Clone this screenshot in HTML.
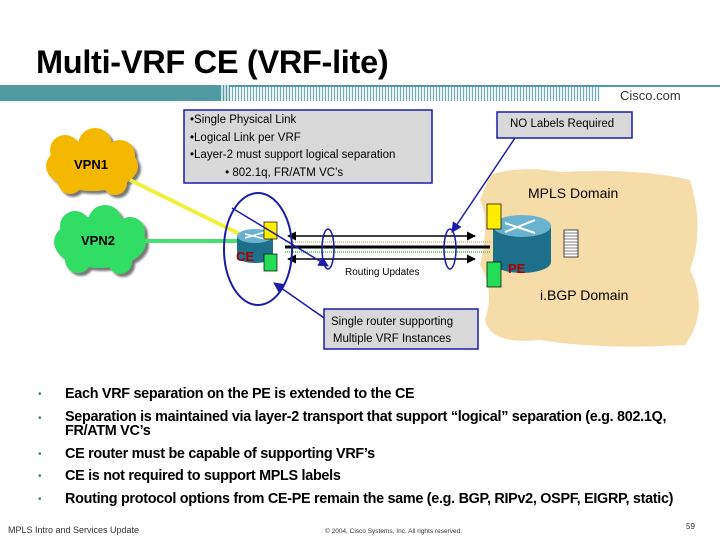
<!DOCTYPE html>
<html><head><meta charset="utf-8"><style>
body{margin:0;width:720px;height:540px;background:#fff;position:relative;overflow:hidden;font-family:"Liberation Sans",sans-serif}
.a{position:absolute;white-space:nowrap}
.b{font-weight:bold;font-size:14.4px;letter-spacing:-0.3px}
.dot{position:absolute;left:38px;font-size:10px;color:#4a7a8c}
</style></head><body>
<div class="a" style="left:36px;top:44px;font-size:32.5px;font-weight:bold;letter-spacing:-0.3px">Multi-VRF CE (VRF-lite)</div>
<div class="a" style="left:0;top:85px;width:230px;height:16px;background:#4f9aa3"></div>
<div class="a" style="left:220px;top:85px;width:380px;height:16px;background:repeating-linear-gradient(90deg,#4f9aa3 0 1px,#e8f0f2 1px 3px);opacity:.8"></div>
<div class="a" style="left:230px;top:85px;width:490px;height:2px;background:#4f9aa3"></div>
<div class="a" style="left:620px;top:88px;font-size:13px;color:#333">Cisco.com</div>
<svg class="a" style="left:0;top:0" width="720" height="380">
<defs><filter id="s"><feDropShadow dx="3" dy="3" stdDeviation="1" flood-color="#777"/></filter>
<marker id="ar" viewBox="0 0 10 10" refX="9" refY="5" markerWidth="7" markerHeight="7" orient="auto"><path d="M0 0L10 5L0 10z" fill="#1c1ca8"/></marker>
<marker id="ak" viewBox="0 0 10 10" refX="9" refY="5" markerWidth="6" markerHeight="6" orient="auto-start-reverse"><path d="M0 0L10 5L0 10z" fill="#000"/></marker></defs>
<path d="M490 175 Q520 165 560 172 Q640 168 690 180 Q705 230 690 270 Q710 310 685 345 Q600 350 540 340 Q490 345 485 320 Q495 290 480 265 Q490 220 480 200 Z" fill="#f6dca8"/>
<g filter="url(#s)"><ellipse cx="92" cy="166" rx="46" ry="25" fill="#f5b800"/>
<circle cx="65" cy="150" r="15" fill="#f5b800"/><circle cx="95" cy="145" r="17" fill="#f5b800"/><circle cx="120" cy="155" r="15" fill="#f5b800"/><circle cx="70" cy="182" r="12" fill="#f5b800"/><circle cx="115" cy="183" r="12" fill="#f5b800"/></g>
<g filter="url(#s)"><ellipse cx="100" cy="242" rx="46" ry="26" fill="#33dd66"/>
<circle cx="75" cy="226" r="15" fill="#33dd66"/><circle cx="105" cy="222" r="17" fill="#33dd66"/><circle cx="130" cy="232" r="15" fill="#33dd66"/><circle cx="78" cy="260" r="13" fill="#33dd66"/><circle cx="120" cy="262" r="12" fill="#33dd66"/></g>
<line x1="130" y1="180" x2="260" y2="244" stroke="#f0f040" stroke-width="4"/>
<line x1="145" y1="241" x2="250" y2="241" stroke="#44e070" stroke-width="4"/>
<line x1="285" y1="247" x2="490" y2="247" stroke="#000" stroke-width="3"/>
<line x1="285" y1="242" x2="490" y2="242" stroke="#cc9" stroke-width="2" stroke-dasharray="1 1"/>
<line x1="285" y1="252" x2="490" y2="252" stroke="#7c7" stroke-width="2" stroke-dasharray="1 1"/>
<line x1="288" y1="236" x2="475" y2="236" stroke="#000" stroke-width="1.5" marker-start="url(#ak)" marker-end="url(#ak)"/>
<line x1="288" y1="259" x2="475" y2="259" stroke="#000" stroke-width="1.5" marker-start="url(#ak)" marker-end="url(#ak)"/>
<ellipse cx="258" cy="249" rx="34" ry="56" fill="none" stroke="#1c1ca8" stroke-width="2"/>
<ellipse cx="328" cy="249" rx="6" ry="20" fill="none" stroke="#1c1ca8" stroke-width="1.5"/>
<ellipse cx="450" cy="249" rx="6" ry="20" fill="none" stroke="#1c1ca8" stroke-width="1.5"/>
<rect x="237" y="236" width="36" height="20" fill="#1e6f8a"/><ellipse cx="255" cy="256" rx="18" ry="7" fill="#1e6f8a"/><ellipse cx="255" cy="236" rx="18" ry="7" fill="#6ab3cf"/>
<path d="M245 234l20 5M265 232l-20 6" stroke="#fff" stroke-width="1.5"/>
<rect x="264" y="222" width="13" height="17" fill="#ffee00" stroke="#000" stroke-width=".7"/>
<rect x="264" y="254" width="13" height="17" fill="#22dd55" stroke="#000" stroke-width=".7"/>
<rect x="493" y="226" width="58" height="36" fill="#1e6f8a"/><ellipse cx="522" cy="262" rx="29" ry="11" fill="#1e6f8a"/><ellipse cx="522" cy="226" rx="29" ry="11" fill="#6ab3cf"/>
<path d="M505 223l30 10M535 220l-30 12" stroke="#fff" stroke-width="2"/>
<rect x="487" y="204" width="14" height="25" fill="#ffee00" stroke="#000" stroke-width=".7"/>
<rect x="487" y="262" width="14" height="25" fill="#22dd55" stroke="#000" stroke-width=".7"/>
<rect x="564" y="230" width="14" height="27" fill="#fff" stroke="#000" stroke-width=".7"/>
<path d="M564 233h14M564 236h14M564 239h14M564 242h14M564 245h14M564 248h14M564 251h14M564 254h14" stroke="#000" stroke-width=".6"/>
<line x1="232" y1="208" x2="328" y2="266" stroke="#1c1ca8" stroke-width="1.5" marker-end="url(#ar)"/>
<line x1="515" y1="138" x2="452" y2="232" stroke="#1c1ca8" stroke-width="1.5" marker-end="url(#ar)"/>
<line x1="327" y1="320" x2="274" y2="283" stroke="#1c1ca8" stroke-width="1.5" marker-end="url(#ar)"/>
<rect x="184" y="110" width="248" height="73" fill="#d8d8d8" stroke="#1c1ca8" stroke-width="1.5"/>
<rect x="497" y="112" width="135" height="26" fill="#d8d8d8" stroke="#1c1ca8" stroke-width="1.5"/>
<rect x="324" y="309" width="154" height="40" fill="#d8d8d8" stroke="#1c1ca8" stroke-width="1.5"/>
</svg>
<div class="a" style="left:190px;top:112px;font-size:11.5px;line-height:17.5px">•Single Physical Link<br>•Logical Link per VRF<br>•Layer-2 must support logical separation<br>&nbsp;&nbsp;&nbsp;&nbsp;&nbsp;&nbsp;&nbsp;&nbsp;&nbsp;&nbsp;&nbsp;• 802.1q, FR/ATM VC’s</div>
<div class="a" style="left:510px;top:118px;font-size:11.5px">NO Labels Required</div>
<div class="a" style="left:331px;top:314px;font-size:11.5px;line-height:17px;text-align:center">Single router supporting<br>Multiple VRF Instances</div>
<div class="a" style="left:74px;top:157px;font-size:13px;font-weight:bold">VPN1</div>
<div class="a" style="left:81px;top:233px;font-size:13px;font-weight:bold">VPN2</div>
<div class="a" style="left:236px;top:249px;font-size:13px;font-weight:bold;color:#a00">CE</div>
<div class="a" style="left:508px;top:261px;font-size:13px;font-weight:bold;color:#a00">PE</div>
<div class="a" style="left:345px;top:267px;font-size:10px">Routing Updates</div>
<div class="a" style="left:528px;top:185px;font-size:14px">MPLS Domain</div>
<div class="a" style="left:540px;top:287px;font-size:14px">i.BGP Domain</div>
<div class="dot" style="top:389px">•</div><div class="a b" style="left:65px;top:386px">Each VRF separation on the PE is extended to the CE</div>
<div class="dot" style="top:413px">•</div><div class="a b" style="left:65px;top:410px;line-height:14px">Separation is maintained via layer-2 transport that support “logical” separation (e.g. 802.1Q,<br>FR/ATM VC’s</div>
<div class="dot" style="top:449px">•</div><div class="a b" style="left:65px;top:446px">CE router must be capable of supporting VRF’s</div>
<div class="dot" style="top:471px">•</div><div class="a b" style="left:65px;top:468px">CE is not required to support MPLS labels</div>
<div class="dot" style="top:494px">•</div><div class="a b" style="left:65px;top:491px">Routing protocol options from CE-PE remain the same (e.g. BGP, RIPv2, OSPF, EIGRP, static)</div>
<div class="a" style="left:8px;top:525px;font-size:9px;color:#333">MPLS Intro and Services Update</div>
<div class="a" style="left:325px;top:528px;font-size:6.5px;color:#333">© 2004, Cisco Systems, Inc. All rights reserved.</div>
<div class="a" style="left:686px;top:522px;font-size:8px;color:#333">59</div>
</body></html>
